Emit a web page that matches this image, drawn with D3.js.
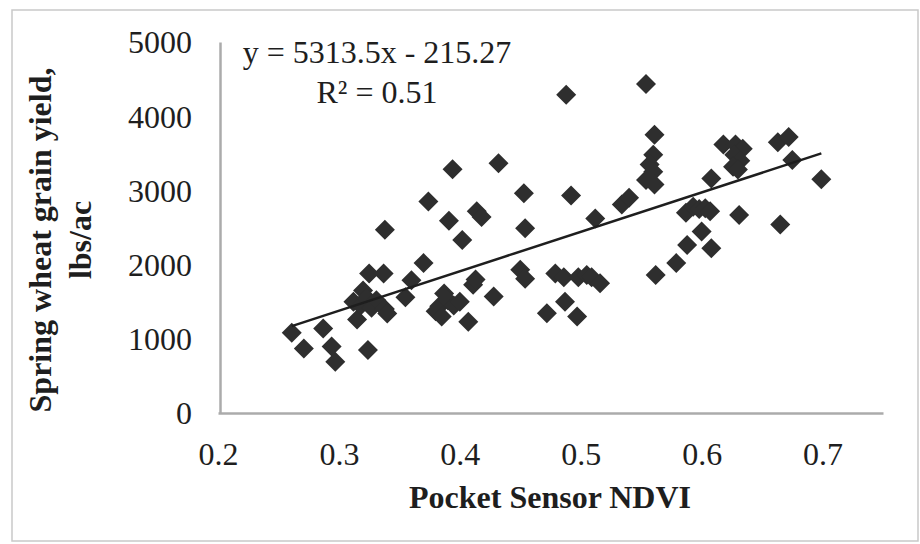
<!DOCTYPE html>
<html>
<head>
<meta charset="utf-8">
<script src="https://cdn.jsdelivr.net/npm/d3@7"></script>
<style>
  html, body { margin: 0; padding: 0; background: #fff; }
  svg { display: block; }
  text { font-family: "Liberation Serif", "Times New Roman", serif; fill: #1e1e1e; }
</style>
</head>
<body>
<svg id="chart" width="920" height="544"></svg>
<script>
// ---- data ----
const ndvi = [
  0.261, 0.271, 0.287, 0.294, 0.297, 0.324,
  0.312, 0.315, 0.318, 0.320, 0.323, 0.325, 0.327, 0.331, 0.337, 0.338, 0.340,
  0.338, 0.355, 0.360, 0.370, 0.374, 0.391, 0.394, 0.402, 0.414, 0.418, 0.432,
  0.453, 0.454, 0.488, 0.492,
  0.380, 0.383, 0.385, 0.387, 0.390, 0.395, 0.400, 0.407, 0.411, 0.413, 0.428,
  0.450, 0.454, 0.472, 0.479, 0.486, 0.487, 0.497, 0.498, 0.505, 0.509, 0.516,
  0.512, 0.534, 0.540, 0.554, 0.561, 0.560, 0.557, 0.560, 0.554, 0.561, 0.562,
  0.579, 0.588, 0.600, 0.608, 0.587, 0.593, 0.598, 0.603, 0.607, 0.608,
  0.618, 0.628, 0.634, 0.627, 0.632, 0.626, 0.630, 0.631, 0.665, 0.663, 0.672,
  0.675, 0.699
];
const grainYield = [
  1080, 870, 1140, 895, 690, 850,
  1500, 1260, 1450, 1650, 1550, 1880, 1420, 1520, 1880, 1400, 1340,
  2470, 1560, 1790, 2020, 2850, 2590, 3285, 2330, 2720, 2640, 3365,
  2960, 2490, 4290, 2930,
  1370, 1440, 1300, 1610, 1520, 1450, 1500, 1230, 1730, 1800, 1570,
  1930, 1810, 1345, 1880, 1830, 1500, 1300, 1830, 1860, 1830, 1750,
  2620, 2810, 2900, 4435, 3750, 3480, 3350, 3250, 3140, 3080, 1860,
  2020, 2265, 2445, 2220, 2700, 2780, 2750, 2760, 2720, 3160,
  3620, 3620, 3560, 3480, 3400, 3320, 3280, 2670, 2540, 3650, 3720,
  3410, 3150
];
const xTicks = [0.2, 0.3, 0.4, 0.5, 0.6, 0.7];
const yTicks = [0, 1000, 2000, 3000, 4000, 5000];
const trendSlope = 5313.5;
const trendIntercept = -215.27;
const equationLines = ["y = 5313.5x - 215.27", "R\u00B2 = 0.51"];
const xTitle = "Pocket Sensor NDVI";
const yTitleLines = ["Spring wheat grain yield,", "lbs/ac"];

// ---- layout ----
const svg = d3.select("#chart");
const x = d3.scaleLinear().domain([0.2, 0.75]).range([218, 883]);
const y = d3.scaleLinear().domain([0, 5000]).range([413, 42]);

// outer border
svg.append("rect")
  .attr("x", 12).attr("y", 10).attr("width", 906).attr("height", 531)
  .attr("fill", "none").attr("stroke", "#c9c9c9").attr("stroke-width", 1.5);

// axes
const xAxis = svg.append("g").attr("transform", "translate(0,413)")
  .call(d3.axisBottom(x).tickValues(xTicks).tickFormat(d3.format(".1f")).tickSize(0).tickSizeOuter(0));
xAxis.select(".domain").attr("stroke", "#ababab").attr("stroke-width", 2.5);
xAxis.selectAll("text")
  .attr("y", 52).attr("dy", 0)
  .style("font-family", '"Liberation Serif", "Times New Roman", serif')
  .style("font-size", "32px").attr("fill", "#1e1e1e");

const yAxis = svg.append("g").attr("transform", "translate(220,0)")
  .call(d3.axisLeft(y).tickValues(yTicks).tickFormat(d3.format("d")).tickSize(0).tickSizeOuter(0).tickPadding(28));
yAxis.select(".domain").attr("stroke", "#ababab").attr("stroke-width", 2.5);
yAxis.selectAll("text")
  .attr("dy", "0.34em")
  .style("font-family", '"Liberation Serif", "Times New Roman", serif')
  .style("font-size", "32px").attr("fill", "#1e1e1e");

// points
const pts = ndvi.map((v, i) => ({ x: v, y: grainYield[i] }));
const diamond = d3.symbol().type(d3.symbolSquare).size(200);
svg.append("g").selectAll("path").data(pts).join("path")
  .attr("d", diamond)
  .attr("transform", d => `translate(${x(d.x)},${y(d.y)}) rotate(45)`)
  .attr("fill", "#2e2e2e");

// trend line
const xMin = d3.min(ndvi), xMax = d3.max(ndvi);
const trend = [xMin, xMax].map(v => ({ x: v, y: trendSlope * v + trendIntercept }));
svg.append("path").datum(trend)
  .attr("d", d3.line().x(d => x(d.x)).y(d => y(d.y)))
  .attr("stroke", "#1e1e1e").attr("stroke-width", 2.5).attr("fill", "none");

// equation
svg.append("g").selectAll("text").data(equationLines).join("text")
  .attr("x", 377).attr("y", (d, i) => 63 + i * 40)
  .attr("text-anchor", "middle").style("font-size", "32px")
  .text(d => d);

// axis titles
svg.append("text")
  .attr("x", 550).attr("y", 508).attr("text-anchor", "middle")
  .style("font-size", "32px").style("font-weight", "bold")
  .text(xTitle);

svg.append("g").selectAll("text").data(yTitleLines).join("text")
  .attr("transform", (d, i) => `translate(${51 + i * 40},240) rotate(-90)`)
  .attr("text-anchor", "middle")
  .style("font-size", "32px").style("font-weight", "bold")
  .text(d => d);
</script>
</body>
</html>
